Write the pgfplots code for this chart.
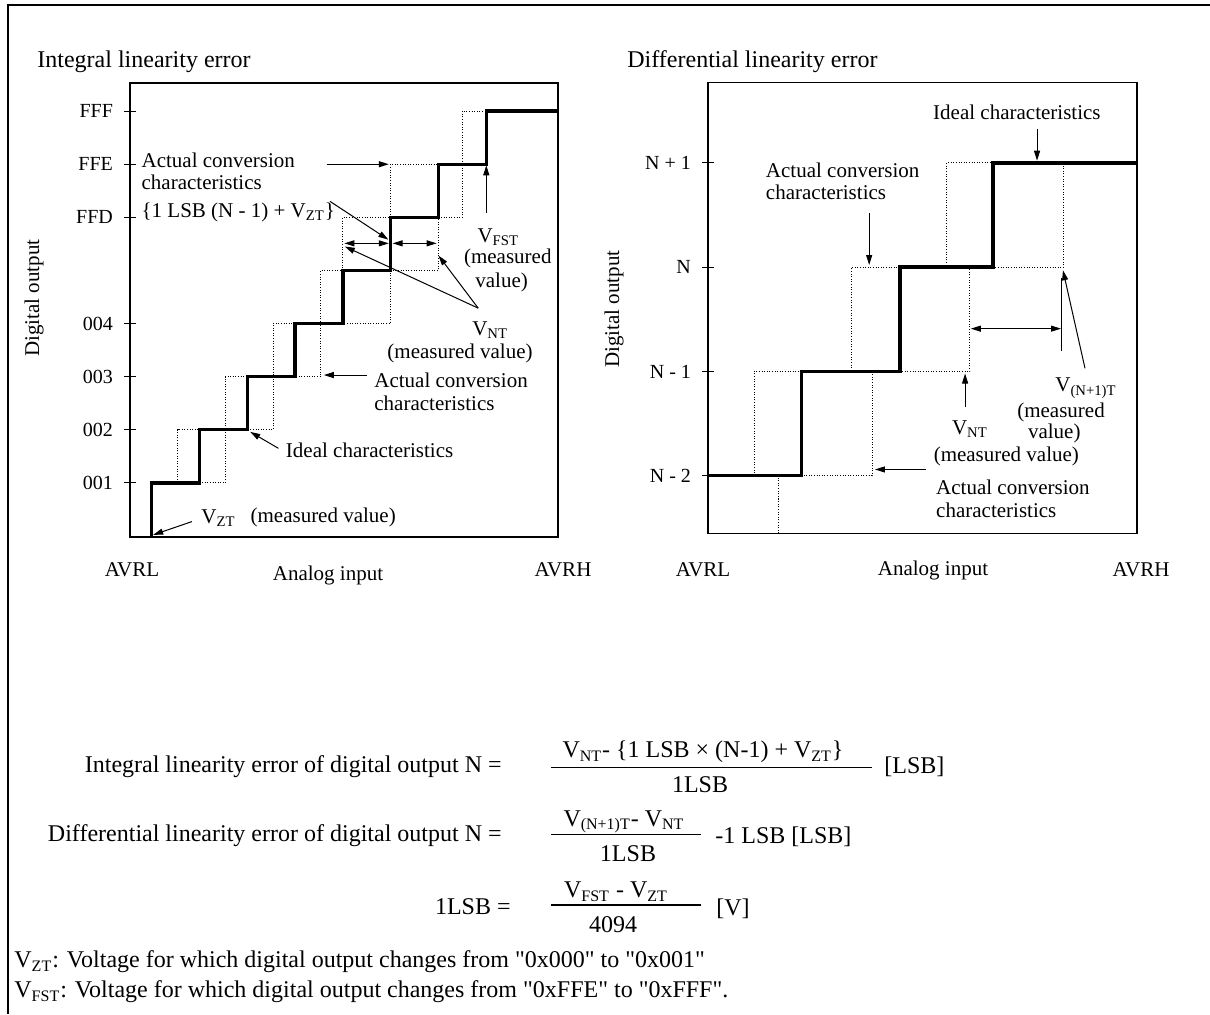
\documentclass[border=0pt]{standalone}
\usepackage{fontspec}
\setmainfont{Liberation Serif}[Ligatures=TeXOff]
\usepackage{pgfplots}
\pgfplotsset{compat=1.18}
\usetikzlibrary{arrows.meta}
\newcommand\ann{\fontsize{10.5}{12}\selectfont}
\newcommand\ttl{\fontsize{12}{14}\selectfont}
\newcommand\btx{\fontsize{12}{14}\selectfont}
\tikzset{
  arr/.style={line width=0.5pt,-{Triangle[length=5pt,width=3pt]}},
  darr/.style={line width=0.5pt,{Triangle[length=5pt,width=3pt]}-{Triangle[length=5pt,width=3pt]}},
  t/.style={font=\ann, inner sep=0pt},
  b/.style={font=\btx, inner sep=0pt},
}
\pgfplotsset{
  lin/.style={scale only axis, clip=false,
    axis line style={line width=0.75pt},
    xtick=\empty, ytick pos=left, tick align=center, major tick length=6pt,
    tick style={line width=0.5pt, black},
    yticklabel style={font=\fontsize{10}{12}\selectfont, xshift=-2pt},
  },
  dotline/.style={black, line width=0.5pt, dash pattern=on 0.5pt off 0.8pt, no marks},
  idealline/.style={black, line width=1.7pt, no marks},
}
\begin{document}
\begin{tikzpicture}
\begin{scope}[x=0.5pt,y=0.5pt]
\path[use as bounding box] (0,0) rectangle (1210,1014);
\draw[line width=1pt] (8,0) -- (8,1009) -- (1210,1009);
\end{scope}

% left axis
\begin{axis}[lin, at={(65pt,238.5pt)}, anchor=south west, width=214pt, height=227pt,
  xmin=-0.455, xmax=8.5, ymin=-0.02, ymax=8.53,
  ytick={1,2,3,4,6,7,8}, yticklabels={001,002,003,004,FFD,FFE,FFF}]
\addplot[dotline] coordinates {(0,1) (0.54,1) (0.54,2) (1.54,2) (1.54,3) (2.54,3) (2.54,4) (3.54,4) (3.54,5) (4,5) (4,6) (5,6) (5,7) (6.5,7) (6.5,8) (7,8)};
\addplot[dotline] coordinates {(1,1) (1.54,1) (1.54,2) (2.54,2) (2.54,3) (3.54,3) (3.54,4) (5,4) (5,5) (6,5) (6,6) (6.5,6) (6.5,7) (7,7)};
\addplot[idealline] coordinates {(0,0) (0,1) (1,1) (1,2) (2,2) (2,3) (3,3) (3,4) (4,4) (4,5) (5,5) (5,6) (6,6) (6,7) (7,7) (7,8) (8.5,8)};
\node[t, anchor=west] at (axis cs:-0.22,7.08) {Actual conversion};
\node[t, anchor=west] at (axis cs:-0.22,6.65) {characteristics};
\node[t, anchor=west] at (axis cs:-0.22,6.10) {\{1 LSB (N - 1) + V\textsubscript{ZT}\}};
\draw[arr] (axis cs:3.66,7.0) -- (axis cs:4.96,7.0);
\draw[arr] (axis cs:3.73,6.30) -- (axis cs:4.95,5.58);
\draw[darr] (axis cs:4.03,5.51) -- (axis cs:4.96,5.51);
\draw[darr] (axis cs:5.04,5.51) -- (axis cs:5.96,5.51);
\draw[arr] (axis cs:6.83,4.29) -- (axis cs:4.04,5.45);
\draw[arr] (axis cs:6.83,4.29) -- (axis cs:6.0,5.28);
\draw[arr] (axis cs:7.0,6.08) -- (axis cs:7.0,6.98);
\node[t] at (axis cs:7.25,5.62) {V\textsubscript{FST}};
\node[t] at (axis cs:7.45,5.22) {(measured};
\node[t] at (axis cs:7.32,4.78) {value)};
\node[t] at (axis cs:7.08,3.88) {V\textsubscript{NT}};
\node[t] at (axis cs:6.45,3.43) {(measured value)};
\draw[arr] (axis cs:4.5,3.03) -- (axis cs:3.6,3.03);
\node[t, anchor=west] at (axis cs:4.65,2.94) {Actual conversion};
\node[t, anchor=west] at (axis cs:4.65,2.50) {characteristics};
\draw[arr] (axis cs:2.65,1.65) -- (axis cs:2.06,1.96);
\node[t, anchor=west] at (axis cs:2.80,1.62) {Ideal characteristics};
\draw[arr] (axis cs:0.84,0.27) -- (axis cs:0.03,0.02);
\node[t, anchor=west] at (axis cs:1.03,0.34) {V\textsubscript{ZT}};
\node[t, anchor=west] at (axis cs:2.06,0.34) {(measured value)};
\end{axis}

% right axis
\begin{axis}[lin, at={(354pt,240.35pt)}, anchor=south west, width=214.5pt, height=225.3pt,
  xmin=0, xmax=4.472, ymin=-0.552, ymax=3.768,
  ytick={0,1,2,3}, yticklabels={N - 2,N - 1,N,N + 1}]
\addplot[dotline] coordinates {(0.48,0) (0.48,1) (1.5,1) (1.5,2) (2.49,2) (2.49,3) (2.97,3)};
\addplot[dotline] coordinates {(0.73,-0.552) (0.73,0) (1.71,0) (1.71,1) (2.73,1) (2.73,2) (3.71,2) (3.71,3)};
\addplot[idealline] coordinates {(0,0) (0.976,0) (0.976,1) (2,1) (2,2) (2.97,2) (2.97,3) (4.472,3)};
\node[t] at (axis cs:3.22,3.48) {Ideal characteristics};
\draw[arr] (axis cs:3.43,3.32) -- (axis cs:3.43,3.02);
\node[t, anchor=west] at (axis cs:0.60,2.93) {Actual conversion};
\node[t, anchor=west] at (axis cs:0.60,2.72) {characteristics};
\draw[arr] (axis cs:1.68,2.52) -- (axis cs:1.68,2.02);
\draw[darr] (axis cs:2.74,1.41) -- (axis cs:3.68,1.41);
\draw[line width=0.5pt] (axis cs:3.69,1.9) -- (axis cs:3.69,1.2);
\draw[arr] (axis cs:3.93,1.03) -- (axis cs:3.70,1.97);
\draw[arr] (axis cs:2.68,0.66) -- (axis cs:2.68,0.98);
\node[t] at (axis cs:2.73,0.45) {V\textsubscript{NT}};
\node[t] at (axis cs:3.11,0.18) {(measured value)};
\node[t] at (axis cs:3.94,0.84) {V\textsubscript{(N+1)T}};
\node[t] at (axis cs:3.68,0.61) {(measured};
\node[t] at (axis cs:3.61,0.41) {value)};
\draw[arr] (axis cs:2.27,0.06) -- (axis cs:1.74,0.06);
\node[t, anchor=west] at (axis cs:2.375,-0.11) {Actual conversion};
\node[t, anchor=west] at (axis cs:2.375,-0.33) {characteristics};
\end{axis}

\begin{scope}[x=0.5pt,y=0.5pt]
% titles
\node[anchor=west, font=\ttl, inner sep=0pt] at (37,952) {Integral linearity error};
\node[anchor=west, font=\ttl, inner sep=0pt] at (627,952) {Differential linearity error};
% axis labels
\node[t, rotate=90] at (34,716) {Digital output};
\node[t, rotate=90] at (614,705) {Digital output};
\node[t] at (132,444) {AVRL};
\node[t] at (328,439) {Analog input};
\node[t] at (563,444) {AVRH};
\node[t] at (703,444) {AVRL};
\node[t] at (933,444) {Analog input};
\node[t] at (1141,444) {AVRH};

% formulas
\node[b, anchor=east] at (502,247.3) {Integral linearity error of digital output N =};
\node[b] at (703,262.3) {V\textsubscript{NT}- \{1 LSB × (N-1) + V\textsubscript{ZT}\}};
\draw[line width=0.75pt] (551,246.3) -- (872,246.3);
\node[b] at (700,229.7) {1LSB};
\node[b, anchor=west] at (884,247) {[LSB]};

\node[b, anchor=east] at (502,178.3) {Differential linearity error of digital output N =};
\node[b] at (624,192.3) {V\textsubscript{(N+1)T}- V\textsubscript{NT}};
\draw[line width=0.75pt] (551,179.7) -- (701,179.7);
\node[b] at (628,160) {1LSB};
\node[b, anchor=west] at (715,177.3) {-1 LSB [LSB]};

\node[b, anchor=east] at (511,107.3) {1LSB =};
\node[b] at (616,122.3) {V\textsubscript{FST} - V\textsubscript{ZT}};
\draw[line width=0.75pt] (551,109) -- (701,109);
\node[b] at (613,89) {4094};
\node[b, anchor=west] at (716,105.7) {[V]};

\node[b, anchor=west] at (14,52) {V\textsubscript{ZT}: Voltage for which digital output changes from "0x000" to "0x001"};
\node[b, anchor=west] at (14,22) {V\textsubscript{FST}: Voltage for which digital output changes from "0xFFE" to "0xFFF".};
\end{scope}
\end{tikzpicture}
\end{document}
